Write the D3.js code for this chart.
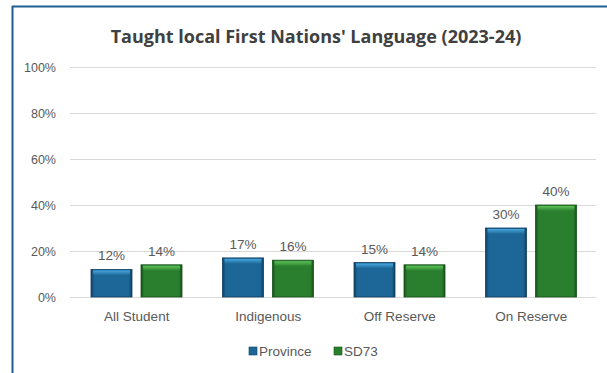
<!DOCTYPE html>
<html>
<head>
<meta charset="utf-8">
<script src="https://cdn.jsdelivr.net/npm/d3@7/dist/d3.min.js"></script>
<style>
  html, body { margin: 0; padding: 0; background: #fff; }
  svg { display: block; font-family: "Liberation Sans", Arial, sans-serif; }
</style>
</head>
<body>
<svg id="chart" width="607" height="373"></svg>
<script>
const categories = ["All Student", "Indigenous", "Off Reserve", "On Reserve"];
const seriesNames = ["Province", "SD73"];
const province = [12, 17, 15, 30];
const sd73 = [14, 16, 14, 40];
const yTicks = [0, 20, 40, 60, 80, 100];
const title = "Taught local First Nations' Language (2023-24)";

const svg = d3.select("#chart");
const W = 607, H = 373;
const plot = { left: 70, right: 596, top: 67, bottom: 297 };

// frame lines along top and left
svg.append("line").attr("x1", 12).attr("x2", W).attr("y1", 6.5).attr("y2", 6.5)
  .attr("stroke", "#1f5f92").attr("stroke-width", 2);
svg.append("line").attr("x1", 12.5).attr("x2", 12.5).attr("y1", 6).attr("y2", H)
  .attr("stroke", "#1f5f92").attr("stroke-width", 2);

const x = d3.scaleBand().domain(categories).range([plot.left, plot.right]).paddingInner(0).paddingOuter(0);
const inner = d3.scaleBand().domain(seriesNames).range([21, 112]).paddingInner(0.18).paddingOuter(0);
const y = d3.scaleLinear().domain([0, 100]).range([plot.bottom, plot.top]);

const colors = {
  Province: { base: "#1c6797", light: "#49a6dc", dark: "#0f3f63" },
  SD73: { base: "#2a7f2e", light: "#5cc256", dark: "#17501a" }
};

// bar gradients: darker edges, brighter top
const defs = svg.append("defs");
seriesNames.forEach(s => {
  const c = colors[s];
  const g = defs.append("linearGradient").attr("id", "h-" + s).attr("x1", 0).attr("x2", 1).attr("y1", 0).attr("y2", 0);
  g.append("stop").attr("offset", "0%").attr("stop-color", c.dark);
  g.append("stop").attr("offset", "8%").attr("stop-color", c.base);
  g.append("stop").attr("offset", "92%").attr("stop-color", c.base);
  g.append("stop").attr("offset", "100%").attr("stop-color", c.dark);
  const v = defs.append("linearGradient").attr("id", "v-" + s).attr("x1", 0).attr("x2", 0).attr("y1", 0).attr("y2", 1);
  v.append("stop").attr("offset", "0%").attr("stop-color", c.light).attr("stop-opacity", 1);
  v.append("stop").attr("offset", "100%").attr("stop-color", c.light).attr("stop-opacity", 0);
});

// gridlines and y axis
const yAxis = d3.axisLeft(y).tickValues(yTicks).tickFormat(d => d + "%").tickSize(-(plot.right - plot.left)).tickPadding(14);
const ga = svg.append("g").attr("transform", `translate(${plot.left},0)`).call(yAxis);
ga.select(".domain").remove();
ga.selectAll(".tick line").attr("stroke", "#d9d9d9").attr("stroke-width", 1);
ga.selectAll(".tick text").attr("fill", "#595959").attr("font-size", 12.5)
  .attr("font-family", "'Liberation Sans', Arial, sans-serif");

// title
svg.append("text").attr("x", 316).attr("y", 43).attr("text-anchor", "middle")
  .attr("font-family", "'Open Sans', sans-serif")
  .attr("font-size", 18).attr("font-weight", "bold").attr("fill", "#404040").text(title);

// bars
const rows = categories.map((c, i) => ({ cat: c, values: [{ s: "Province", v: province[i] }, { s: "SD73", v: sd73[i] }] }));
const groups = svg.append("g").selectAll("g").data(rows).join("g")
  .attr("transform", d => `translate(${x(d.cat)},0)`);

const bars = groups.selectAll("g.bar").data(d => d.values).join("g").attr("class", "bar");
bars.append("rect")
  .attr("x", d => inner(d.s)).attr("y", d => y(d.v))
  .attr("width", inner.bandwidth()).attr("height", d => y(0) - y(d.v))
  .attr("fill", d => `url(#h-${d.s})`)
  .attr("stroke", d => colors[d.s].dark).attr("stroke-width", 0.8);
bars.append("rect")
  .attr("x", d => inner(d.s) + 2).attr("y", d => y(d.v) + 1)
  .attr("width", inner.bandwidth() - 4).attr("height", 5)
  .attr("fill", d => `url(#v-${d.s})`);

bars.append("text")
  .attr("x", d => inner(d.s) + inner.bandwidth() / 2)
  .attr("y", d => y(d.v) - 9)
  .attr("text-anchor", "middle").attr("font-size", 13.5).attr("fill", "#595959")
  .text(d => d.v + "%");

// category labels
svg.append("g").selectAll("text").data(categories).join("text")
  .attr("x", d => x(d) + x.bandwidth() / 2 + 1).attr("y", 321)
  .attr("text-anchor", "middle").attr("font-size", 13.5).attr("fill", "#595959").text(d => d);

// legend
const legend = svg.append("g");
const legendItems = [{ s: "Province", x: 249 }, { s: "SD73", x: 334 }];
legendItems.forEach(it => {
  legend.append("rect").attr("x", it.x).attr("y", 347).attr("width", 8).attr("height", 8)
    .attr("fill", colors[it.s].base).attr("stroke", colors[it.s].dark).attr("stroke-width", 0.6);
  legend.append("text").attr("x", it.x + 10).attr("y", 356).attr("font-size", 13.5).attr("fill", "#595959").text(it.s);
});
</script>
</body>
</html>
